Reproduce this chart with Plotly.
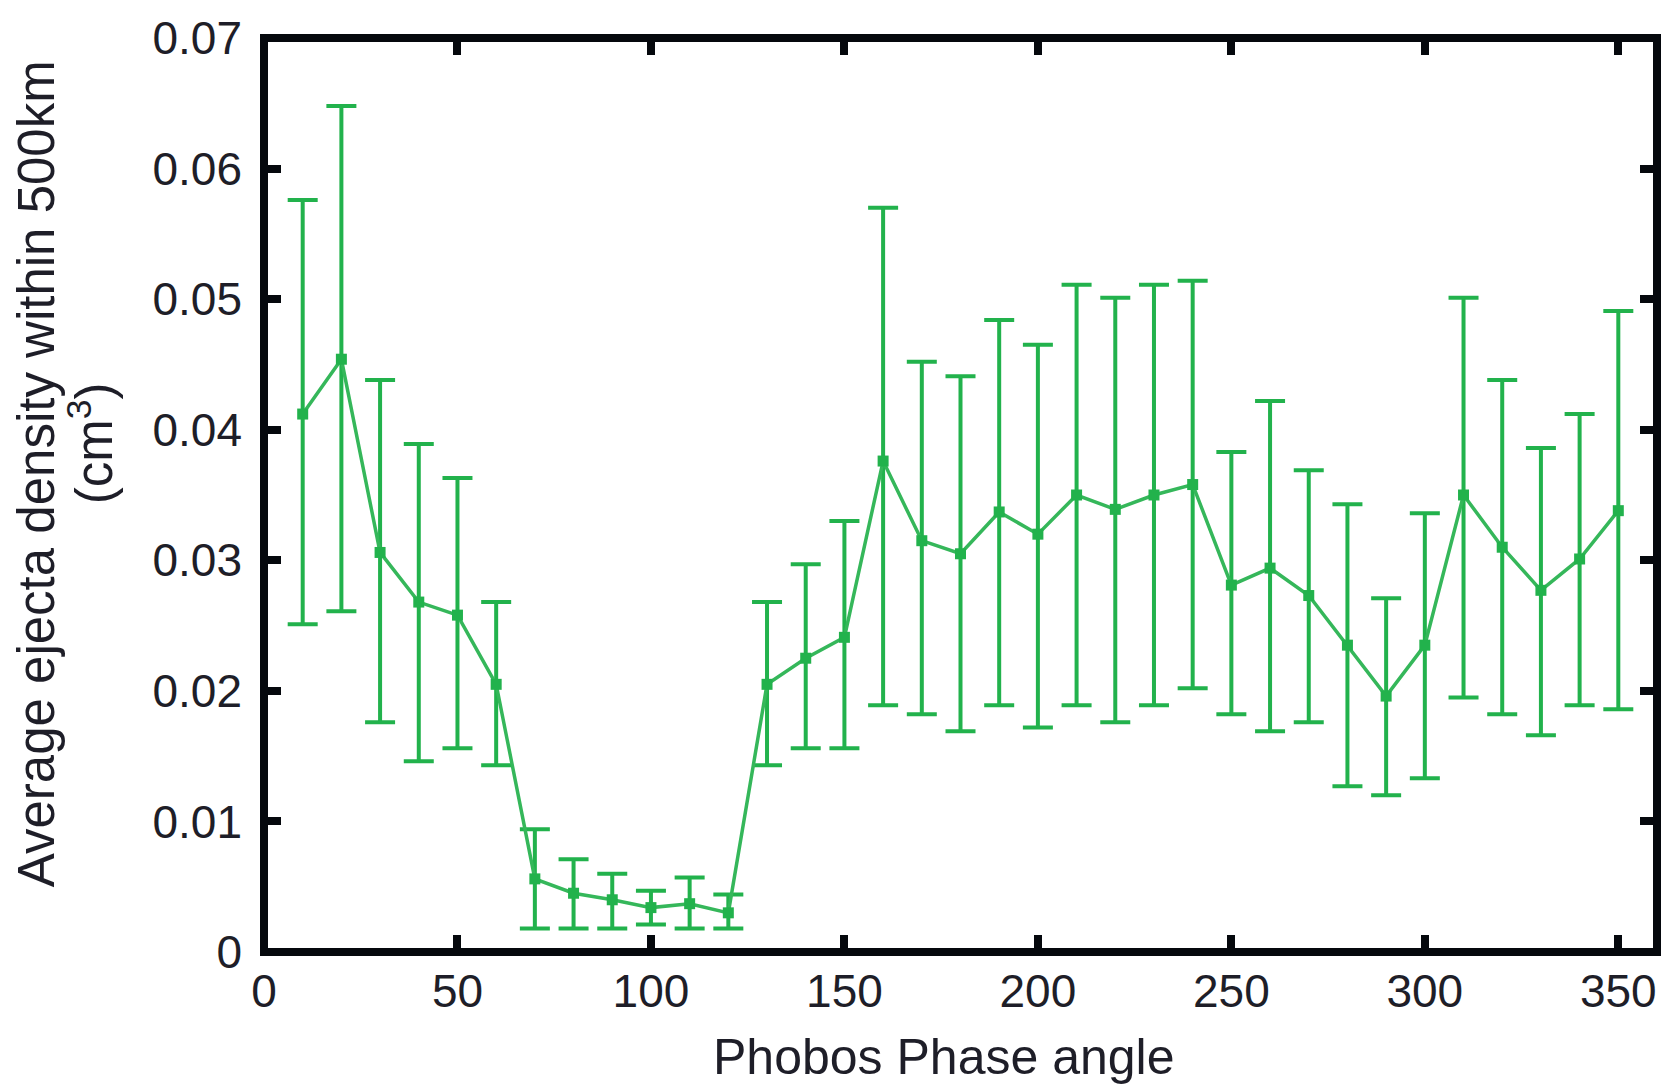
import plotly.graph_objects as go

phase_angle = [10, 20, 30, 40, 50, 60, 70, 80, 90, 100, 110, 120, 130, 140, 150, 160, 170, 180,
               190, 200, 210, 220, 230, 240, 250, 260, 270, 280, 290, 300, 310, 320, 330, 340, 350]
density = [0.0412, 0.0454, 0.0306, 0.0268, 0.0258, 0.0205, 0.0056, 0.0045, 0.0040, 0.0034,
           0.0037, 0.0030, 0.0205, 0.0225, 0.0241, 0.0376, 0.0315, 0.0305, 0.0337, 0.0320,
           0.0350, 0.0339, 0.0350, 0.0358, 0.0281, 0.0294, 0.0273, 0.0235, 0.0196, 0.0235,
           0.0350, 0.0310, 0.0277, 0.0301, 0.0338]
upper = [0.0576, 0.0648, 0.0438, 0.0389, 0.0363, 0.0268, 0.0094, 0.0071, 0.0060, 0.0047,
         0.0057, 0.0044, 0.0268, 0.0297, 0.0330, 0.0570, 0.0452, 0.0441, 0.0484, 0.0465,
         0.0511, 0.0501, 0.0511, 0.0514, 0.0383, 0.0422, 0.0369, 0.0343, 0.0271, 0.0336,
         0.0501, 0.0438, 0.0386, 0.0412, 0.0491]
lower = [0.0251, 0.0261, 0.0176, 0.0146, 0.0156, 0.0143, 0.0018, 0.0018, 0.0018, 0.0021,
         0.0018, 0.0018, 0.0143, 0.0156, 0.0156, 0.0189, 0.0182, 0.0169, 0.0189, 0.0172,
         0.0189, 0.0176, 0.0189, 0.0202, 0.0182, 0.0169, 0.0176, 0.0127, 0.0120, 0.0133,
         0.0195, 0.0182, 0.0166, 0.0189, 0.0186]

x_ticks = [0, 50, 100, 150, 200, 250, 300, 350]
y_ticks = [0, 0.01, 0.02, 0.03, 0.04, 0.05, 0.06, 0.07]
y_tick_text = ["0", "0.01", "0.02", "0.03", "0.04", "0.05", "0.06", "0.07"]

x_title = "Phobos Phase angle"
y_title_1 = "Average ejecta density within 500km"
y_title_2 = "(cm<sup>3</sup>)"

GREEN = "#22b24c"
LINE_GREEN = "#35b75a"
TEXT = "#1e1e28"
FONT = "Liberation Sans, Arial, sans-serif"

err_plus = [u - d for u, d in zip(upper, density)]
err_minus = [d - l for d, l in zip(density, lower)]

fig = go.Figure()
fig.add_trace(go.Scatter(
    x=phase_angle, y=density, mode="lines+markers",
    line=dict(color=LINE_GREEN, width=3.5),
    marker=dict(symbol="square", size=11, color=GREEN),
    error_y=dict(type="data", symmetric=False, array=err_plus, arrayminus=err_minus,
                 color=GREEN, thickness=4, width=15),
    showlegend=False,
))

W, H = 1670, 1085
L, R, T, B = 264, 13, 32, 133
pw, ph = W - L - R, H - T - B

fig.update_layout(
    width=W, height=H,
    margin=dict(l=L, r=R, t=T, b=B, pad=0),
    paper_bgcolor="white", plot_bgcolor="white",
    font=dict(family=FONT, color=TEXT, size=46),
    xaxis=dict(range=[0, 360], tickvals=x_ticks, ticks="inside", ticklen=17, tickwidth=8,
               tickcolor="#05080d", mirror="ticks", showline=False, showgrid=False,
               zeroline=False, ticklabelstandoff=8,
               tickfont=dict(size=46, color=TEXT, family=FONT)),
    yaxis=dict(range=[0, 0.07], tickvals=y_ticks, ticktext=y_tick_text, ticks="inside",
               ticklen=17, tickwidth=8, tickcolor="#05080d", mirror="ticks", showline=False,
               showgrid=False, zeroline=False, ticklabelstandoff=21,
               tickfont=dict(size=46, color=TEXT, family=FONT)),
    shapes=[dict(type="rect", xref="paper", yref="paper", x0=0, x1=1, y0=0, y1=1,
                 line=dict(color="#05080d", width=8), layer="above")],
    annotations=[
        dict(text=x_title, xref="paper", yref="paper", x=(943 - L) / pw, y=(T + ph - 1058) / ph,
             xanchor="center", yanchor="middle", showarrow=False,
             font=dict(size=50, color=TEXT, family=FONT)),
        dict(text=y_title_1, xref="paper", yref="paper", x=(36 - L) / pw, y=(T + ph - 471) / ph,
             xanchor="center", yanchor="middle", textangle=-90, showarrow=False,
             font=dict(size=51, color=TEXT, family=FONT)),
        dict(text=y_title_2, xref="paper", yref="paper", x=(91 - L) / pw, y=(T + ph - 440) / ph,
             xanchor="center", yanchor="middle", textangle=-90, showarrow=False,
             font=dict(size=51, color=TEXT, family=FONT)),
    ],
)

fig.write_html("out.html")
